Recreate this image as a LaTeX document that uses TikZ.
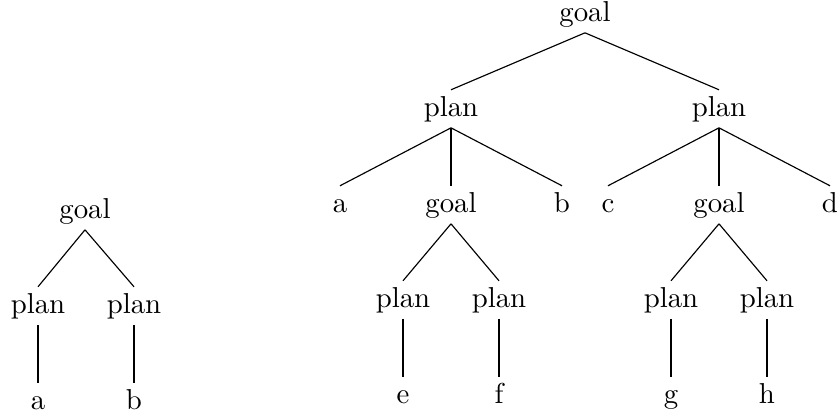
\documentclass[tikz,border=0pt]{standalone}
\begin{document}
\begin{tikzpicture}[x=0.347pt,y=-0.347pt,every node/.style={text height=6.9pt,text depth=1.9pt,inner sep=2pt,anchor=base}]
\useasboundingbox (0,0) rectangle (838,417);
% small tree
\node (lg) at (85,218) {goal};
\node (lp1) at (38,313) {plan};
\node (lp2) at (134,313) {plan};
\node (la) at (38,409) {a};
\node (lb) at (134,409) {b};
\draw (lg.south)--(lp1.north) (lg.south)--(lp2.north);
\draw (lp1.south)--(la.north) (lp2.south)--(lb.north);
% big tree
\node (rg) at (585,21) {goal};
\node (rp1) at (451,116) {plan};
\node (rp2) at (719,116) {plan};
\draw (rg.south)--(rp1.north) (rg.south)--(rp2.north);
\node (ra) at (340,212) {a};
\node (rb) at (562,212) {b};
\node (rc) at (608,212) {c};
\node (rd) at (830,212) {d};
\draw (rp1.south)--(ra.north) (rp1.south)--(rb.north);
\draw (rp2.south)--(rc.north) (rp2.south)--(rd.north);
% goal subtrees
\foreach \i/\x/\l/\r in {1/451/e/f,2/719/g/h} {
  \node (sg\i) at (\x,212) {goal};
  \node (sp\i a) at (\x-48,307) {plan};
  \node (sp\i b) at (\x+48,307) {plan};
  \node (sl\i a) at (\x-48,403) {\l};
  \node (sl\i b) at (\x+48,403) {\r};
  \draw (rp\i.south)--(sg\i.north);
  \draw (sg\i.south)--(sp\i a.north) (sg\i.south)--(sp\i b.north);
  \draw (sp\i a.south)--(sl\i a.north) (sp\i b.south)--(sl\i b.north);
}
\end{tikzpicture}
\end{document}
